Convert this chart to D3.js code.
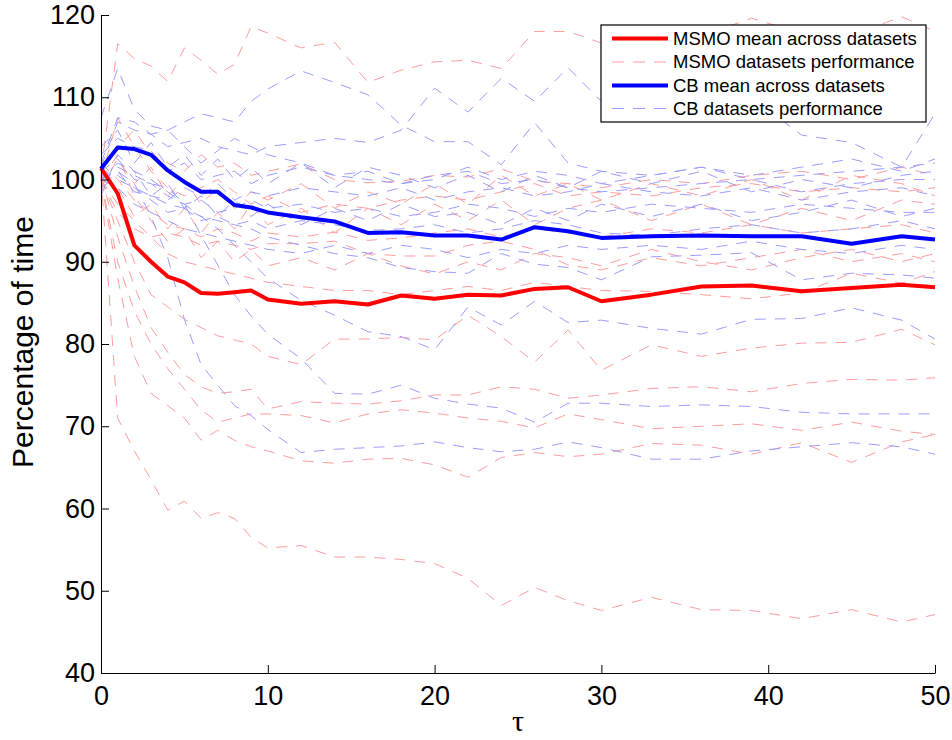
<!DOCTYPE html>
<html lang="en">
<head>
<meta charset="UTF-8">
<title>MSMO vs CB</title>
<style>
    body { margin: 0; background: #fff; }
    svg { display: block; font-family: "Liberation Sans", Arial, Helvetica, sans-serif; }
    .axis path, .axis line { stroke: #000; stroke-width: 1; }
    .axis text { font-size: 27px; fill: #000; }
</style>
</head>
<body>
<div id="chart"></div>
<script src="https://d3js.org/d3.v7.min.js"></script>
<script>
    // tau values where each curve was sampled
    const tau = [0, 1, 2, 3, 4, 5, 6, 7, 8, 9, 10, 12, 14, 16, 18, 20, 22, 24, 26, 28, 30, 33, 36, 39, 42, 45, 48, 50];

    const msmoMean = [101.4, 98.3, 92.0, 90.0, 88.2, 87.5, 86.2, 86.1, 86.3, 86.5, 85.4, 84.9, 85.2, 84.8, 85.9, 85.5, 86.0, 85.9, 86.7, 86.9, 85.2, 86.0, 87.0, 87.1, 86.4, 86.8, 87.2, 86.9];
    const cbMean = [101.3, 103.9, 103.7, 103.0, 101.1, 99.7, 98.5, 98.5, 96.9, 96.6, 96.0, 95.4, 94.9, 93.5, 93.6, 93.2, 93.2, 92.7, 94.2, 93.7, 92.9, 93.1, 93.2, 93.1, 93.1, 92.2, 93.1, 92.7];

    // per-dataset curves, MSMO
    const msmoDatasets = [
        [101, 116.5, 114.7, 113.8, 111.9, 116, 114.5, 112.8, 114, 118.6, 117.8, 116, 116.7, 111.8, 113.3, 114.3, 114.5, 113.5, 118, 118, 116.6, 116, 117.5, 119.6, 117.8, 117.5, 119.8, 118],
        [100, 107.5, 104, 101, 99, 98, 99, 100, 98.5, 97, 98, 96, 97, 96.5, 97.5, 98, 97.5, 98.5, 99.5, 98, 98.5, 98, 99, 99.5, 98.5, 99, 98.5, 99],
        [101, 104, 106, 103, 102, 101, 103, 101.5, 102, 100.5, 101, 101.9, 100, 99.6, 99.8, 100.5, 100.3, 101.3, 99.8, 99.5, 99, 100, 99.5, 100.5, 101, 100, 101.5, 100.5],
        [100, 99, 95.5, 97, 94, 96.5, 93.5, 96, 94, 97, 94.5, 96.5, 93.5, 96.5, 94.5, 97, 95, 97.5, 94.5, 96.5, 97.5, 95, 97, 94.5, 96.5, 95, 97.5, 97],
        [99, 102.5, 99.5, 101.5, 98, 100, 97, 99, 96.5, 98.5, 97.5, 99.5, 96.5, 98.5, 97, 99.5, 97, 100.5, 98, 99.5, 97.5, 99.5, 98, 100, 97.5, 100.5, 99.5, 98],
        [102, 100, 97.5, 96, 94.5, 94, 93, 94, 93.5, 92.5, 93.5, 93, 93.6, 92.6, 92.9, 93.5, 94, 93, 94, 93.5, 93, 94, 93.5, 94.5, 93.5, 94, 94.5, 93.5],
        [100, 103, 98, 95, 92.5, 94, 90.5, 92.5, 90, 91.5, 89.5, 90.5, 89, 91, 89.5, 88.5, 90, 89, 91, 90.5, 89.5, 91.5, 90, 89, 90.5, 91.5, 90, 91],
        [100, 96, 94, 93, 93.5, 93, 92, 92.5, 92, 91.5, 92.2, 92.2, 92.5, 91, 90.7, 90.7, 92, 92.5, 91.5, 89.6, 89, 90.5, 89.5, 90.5, 91.5, 90, 91, 90],
        [100, 97, 95, 93, 91, 90, 89.5, 89, 88.5, 88, 87.5, 87, 86.5, 86.5, 86, 86.5, 87, 86.5, 87.5, 87, 86.5, 86.4, 86, 85.5, 86.2, 88.6, 87.4, 88.8],
        [100, 95, 90, 86, 84.5, 83, 82, 81, 80.5, 80, 78.5, 77.5, 80.6, 80.6, 80.8, 80.5, 83.5, 80.9, 77.8, 81.7, 76.8, 79.9, 78.5, 79.5, 80.1, 80.2, 81.8, 79.9],
        [100.5, 93, 87, 82, 79, 76.3, 74.8, 74, 74.2, 74.5, 72.1, 73, 72.8, 72.7, 73.1, 73.8, 73.8, 74.8, 74.5, 73.4, 73.8, 74.6, 74.8, 74.2, 75.2, 75.7, 75.6, 75.9],
        [100, 90, 84, 80, 77, 74.5, 72, 70.5, 71, 71.5, 71.5, 71.3, 70.4, 71.5, 72, 71.6, 71, 70.6, 69.8, 71.5, 70.8, 69.7, 70, 70.3, 69.5, 70.5, 69.4, 69],
        [100, 88, 78.5, 74, 72.5, 71, 68.3, 69.5, 68.3, 67.5, 67, 65.8, 65.5, 66, 66.1, 65.3, 63.8, 66.2, 66.8, 66.3, 66.6, 67.9, 67.7, 66.6, 68, 65.6, 68.1, 69],
        [100.5, 71, 67, 63.5, 59.8, 60.9, 58.8, 59.5, 58.8, 56.5, 55.2, 55.5, 54.1, 54.1, 53.8, 53.3, 51.5, 48.2, 50.4, 48.8, 47.6, 49.2, 47.7, 47.6, 46.6, 47.7, 46.2, 47.1]
    ];

    // per-dataset curves, CB
    const cbDatasets = [
        [107.5, 113.5, 108.5, 106.5, 106, 104, 102, 103.5, 105, 104, 103, 102, 100.5, 100, 99.5, 100.5, 101, 99.5, 100, 99, 98.5, 99, 99.5, 100, 98.5, 99.5, 100, 100],
        [102, 107.5, 107, 105.5, 104, 104.5, 105, 104, 103.5, 103, 104, 104.5, 105, 104.5, 106, 111.1, 108.2, 112.3, 109.5, 113.6, 109.5, 107.5, 113, 110, 105.4, 104.5, 101.5, 108],
        [101.5, 107, 106, 105.5, 106, 107, 108, 107.5, 107, 109.5, 111, 113.2, 111.8, 110.3, 106.6, 104.6, 104.6, 101.8, 106.9, 102, 101, 100.5, 101.5, 100, 100.5, 101, 101.5, 102],
        [103, 105, 104, 103.5, 101, 102, 100, 100.5, 101, 99.5, 100.5, 101.5, 100.5, 101, 99.5, 100, 101.5, 100, 101, 100.5, 99.5, 100.5, 101.5, 100.5, 101.5, 102.5, 101, 102.5],
        [104, 106, 102, 104.5, 101.5, 103, 100.5, 102.5, 100, 101.5, 99.5, 102, 99, 101.5, 100.5, 99, 100.5, 98.5, 100.5, 99, 101, 99.5, 101, 98.5, 100, 99, 100.5, 101],
        [100, 101, 98.5, 98, 97.5, 99, 98, 99.5, 97.5, 98.5, 98, 99, 98.5, 98, 99, 97.5, 98.5, 99, 98, 98.5, 99.5, 98.5, 98, 99, 97.5, 98.5, 99, 98],
        [101, 102.5, 100, 99.5, 98, 97, 97.5, 96, 96.5, 97.5, 96.5, 97, 96, 96.5, 95.5, 96, 97, 96.5, 95.5, 96.5, 96, 97, 96.5, 96, 97, 96.5, 96, 96],
        [98, 103, 101, 98, 99.5, 96.5, 98, 95.5, 97.5, 95.5, 97, 94.5, 96.5, 95, 97, 95.5, 96, 94.5, 96.5, 95, 97, 95.5, 97, 95, 96, 97.5, 95.5, 96.5],
        [99, 100.5, 99, 97.5, 96, 96.5, 95, 95.5, 94.5, 95, 94, 95, 94.5, 93.8, 94, 94.5, 93.5, 94, 95, 94.5, 93.5, 93.2, 94, 94.5, 93.5, 94, 95, 94],
        [100, 99, 97, 96, 95, 94, 93.5, 93, 92.5, 92, 91.5, 91, 92, 91, 92, 91.5, 90.5, 91.5, 91, 92, 91.5, 92, 91.5, 92.5, 91.5, 91, 92, 91.5],
        [100.5, 100, 99, 98, 97, 96.5, 95.5, 95, 94.5, 94, 93, 92, 91, 90.5, 89.3, 88.8, 88.6, 91, 89.7, 89.3, 87.8, 90.6, 90.8, 91.1, 87.8, 88.6, 88.4, 88],
        [100, 102, 101, 100, 98.5, 97, 95.5, 94, 92, 90, 88, 85.3, 83.5, 81.5, 80.9, 79.3, 84.5, 82.3, 85.2, 82.6, 82.9, 81.9, 81.2, 83, 83.1, 84.4, 82.9, 80.6],
        [100, 101.5, 100.5, 99.5, 99, 97, 93.2, 89.6, 86, 83.4, 81.2, 78.2, 74, 73.9, 75, 73.4, 72.7, 72.2, 70.5, 72.8, 72.8, 72.4, 72.6, 72.4, 71.7, 71.5, 71.5, 71.5],
        [100, 101, 99.5, 95.5, 90.5, 83, 77.5, 75, 72.5, 71.3, 69.6, 66.8, 67.2, 67.4, 67.6, 68.1, 67.4, 66.9, 67.2, 68.1, 67.4, 66, 66, 67, 67.5, 68, 67.5, 66.6]
    ];

    const yTicks = [40, 50, 60, 70, 80, 90, 100, 110, 120];
    const xTicks = [0, 10, 20, 30, 40, 50];
    const legendLabels = ["MSMO mean across datasets", "MSMO datasets performance", "CB mean across datasets", "CB datasets performance"];

    const width = 952, height = 740;
    const margin = { top: 15, right: 17, bottom: 67, left: 101 };

    const svg = d3.select("#chart").append("svg")
        .attr("width", width)
        .attr("height", height);

    const x = d3.scaleLinear().domain([0, 50]).range([margin.left, width - margin.right]);
    const y = d3.scaleLinear().domain([40, 120]).range([height - margin.bottom, margin.top]);

    const line = d3.line()
        .x((d, i) => x(tau[i]))
        .y(d => y(d));

    const lightRed = "#ff9c9c", lightBlue = "#9c9cff";

    // dashed per-dataset curves
    svg.append("g").selectAll("path")
        .data(msmoDatasets)
      .enter().append("path")
        .attr("d", line)
        .attr("fill", "none")
        .attr("stroke", lightRed)
        .attr("stroke-width", 1)
        .attr("stroke-dasharray", "11,9");

    svg.append("g").selectAll("path")
        .data(cbDatasets)
      .enter().append("path")
        .attr("d", line)
        .attr("fill", "none")
        .attr("stroke", lightBlue)
        .attr("stroke-width", 1)
        .attr("stroke-dasharray", "11,9");

    // mean curves
    svg.append("path")
        .attr("d", line(msmoMean))
        .attr("fill", "none")
        .attr("stroke", "#ff0000")
        .attr("stroke-width", 4)
        .attr("stroke-linejoin", "round");

    svg.append("path")
        .attr("d", line(cbMean))
        .attr("fill", "none")
        .attr("stroke", "#0000ff")
        .attr("stroke-width", 4)
        .attr("stroke-linejoin", "round");

    // axes, ticks pointing inwards
    svg.append("g")
        .attr("class", "axis")
        .attr("transform", "translate(0," + y(40) + ")")
        .call(d3.axisBottom(x).tickValues(xTicks).tickSizeInner(-8).tickSizeOuter(0).tickPadding(13));

    svg.append("g")
        .attr("class", "axis")
        .attr("transform", "translate(" + x(0) + ",0)")
        .call(d3.axisLeft(y).tickValues(yTicks).tickSizeInner(-8).tickSizeOuter(0).tickPadding(6));

    svg.selectAll(".axis").attr("font-family", null).attr("font-size", null);

    // axis titles
    svg.append("text")
        .attr("transform", "translate(33," + (y(80) - 2) + ") rotate(-90)")
        .attr("text-anchor", "middle")
        .attr("font-size", 30)
        .text("Percentage of time");

    svg.append("text")
        .attr("x", x(25))
        .attr("y", 731)
        .attr("text-anchor", "middle")
        .attr("font-family", "'Liberation Serif', 'DejaVu Serif', serif")
        .attr("font-size", 30)
        .text("τ");

    // legend
    const legend = svg.append("g");
    legend.append("rect")
        .attr("x", 601).attr("y", 25)
        .attr("width", 325).attr("height", 97)
        .attr("fill", "#fff")
        .attr("stroke", "#000")
        .attr("stroke-width", 1.2);

    const legendStyles = [
        { color: "#ff0000", w: 4, dash: null },
        { color: lightRed, w: 1, dash: "12,9" },
        { color: "#0000ff", w: 4, dash: null },
        { color: lightBlue, w: 1, dash: "12,9" }
    ];
    const rowY = [38.5, 62, 85.5, 108.5];

    legendLabels.forEach((label, i) => {
        legend.append("line")
            .attr("x1", 612).attr("x2", 668)
            .attr("y1", rowY[i]).attr("y2", rowY[i])
            .attr("stroke", legendStyles[i].color)
            .attr("stroke-width", legendStyles[i].w)
            .attr("stroke-dasharray", legendStyles[i].dash);
        legend.append("text")
            .attr("x", 673)
            .attr("y", rowY[i])
            .attr("dy", "0.35em")
            .attr("font-size", 18.5)
            .text(label);
    });
</script>
</body>
</html>
